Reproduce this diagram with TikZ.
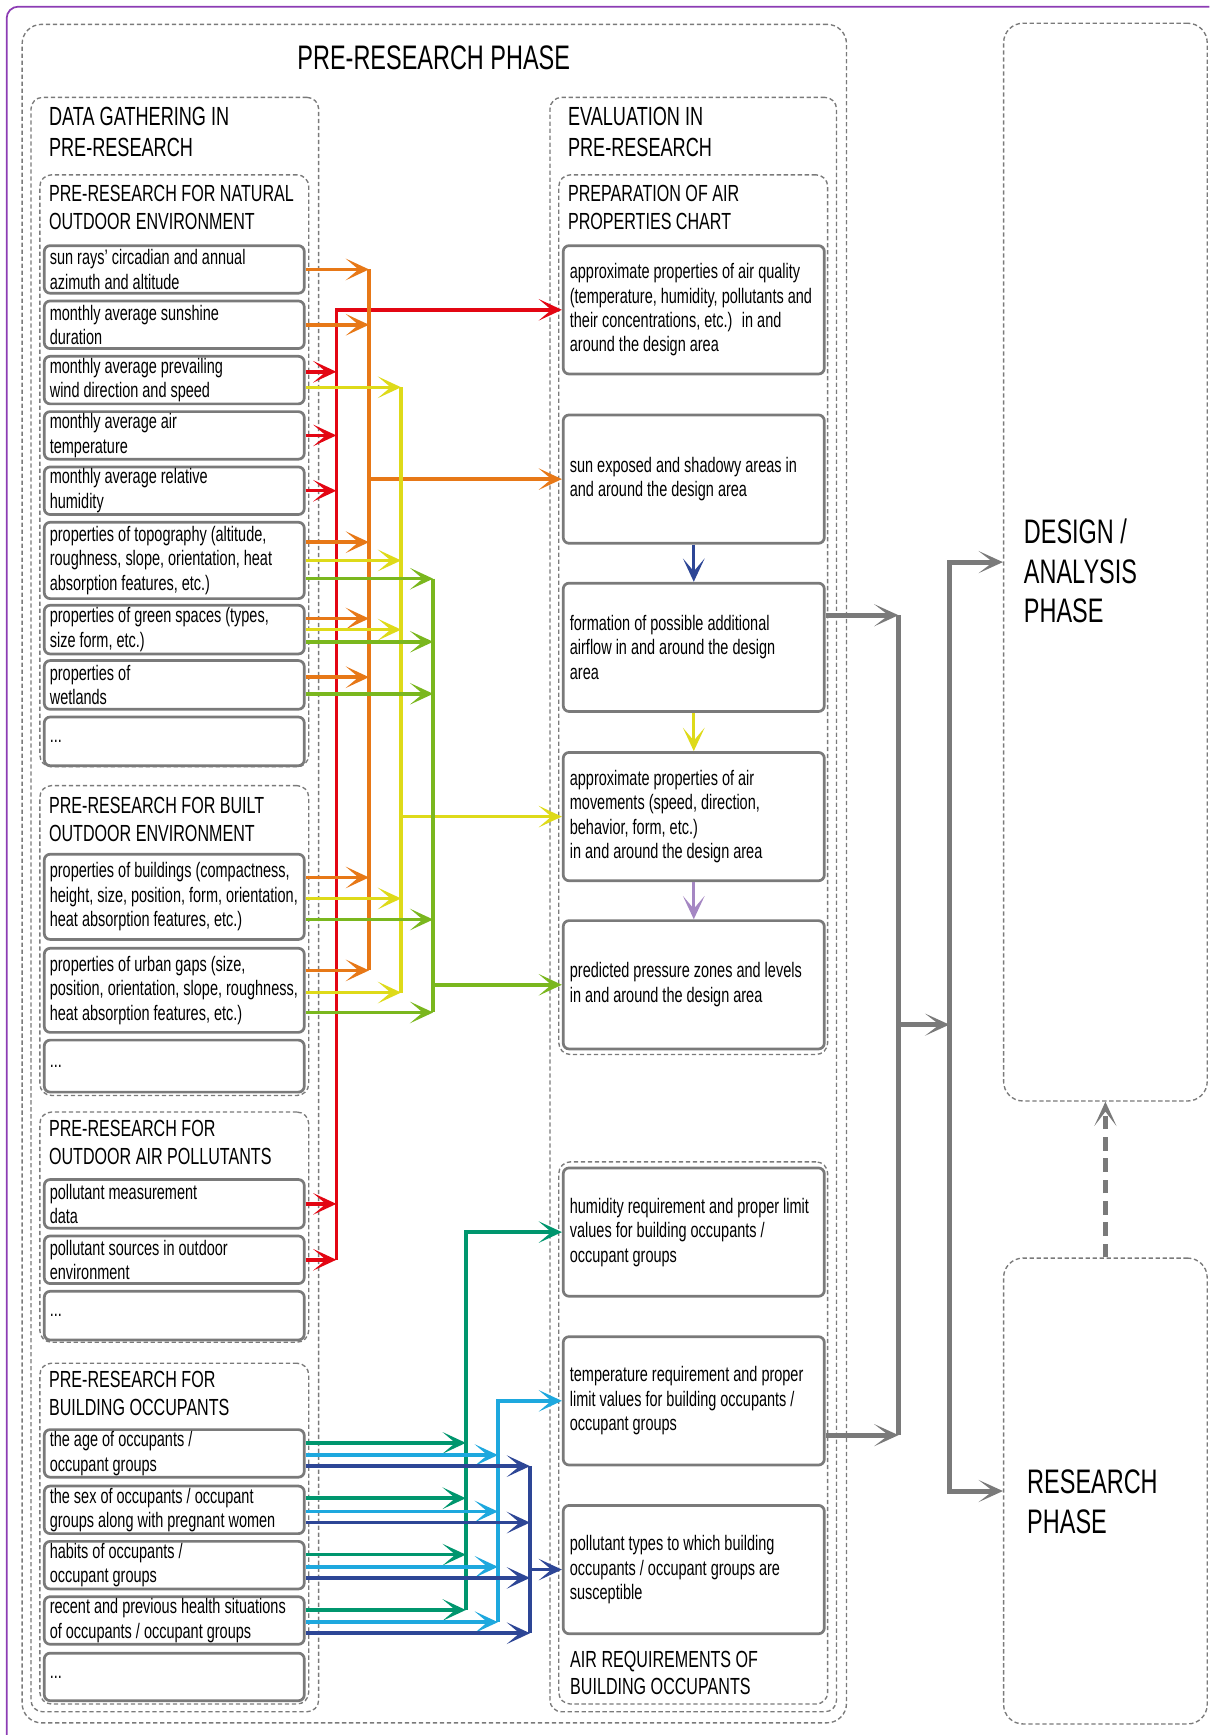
\documentclass[tikz,border=0pt]{standalone}
\usepackage{fontspec}
\setmainfont{Liberation Sans}[FakeStretch=0.69]
\usetikzlibrary{arrows.meta,calc,fit}

\definecolor{cred}{RGB}{227,6,19}
\definecolor{corange}{RGB}{231,120,23}
\definecolor{cyellow}{RGB}{222,218,25}
\definecolor{cgreen}{RGB}{122,183,30}
\definecolor{cteal}{RGB}{0,150,110}
\definecolor{cblue}{RGB}{30,168,222}
\definecolor{cnavy}{RGB}{45,70,150}
\definecolor{cviolet}{RGB}{165,135,195}
\definecolor{boxgray}{RGB}{122,122,122}
\definecolor{framepurple}{RGB}{140,60,180}

\newcommand{\smalltxt}{\fontsize{10.8}{12.6}\selectfont\hyphenpenalty=10000\exhyphenpenalty=10000}
\newcommand{\headtxt}{\fontsize{12}{14.2}\selectfont}
\newcommand{\secttxt}{\fontsize{13.5}{15.9}\selectfont}
\newcommand{\bigtxt}{\fontsize{17.5}{20.4}\selectfont}

\begin{document}
\begin{tikzpicture}[x=0.02cm, y=-0.02cm,
  grp/.style={draw=boxgray, line width=0.7pt, dash pattern=on 2.2pt off 1.4pt, rounded corners=6pt, inner sep=0pt},
  phase/.style={grp, rounded corners=10pt},
  item/.style={draw=boxgray, line width=1.4pt, rounded corners=3pt, align=flush left, text width=4.5cm, inner xsep=0.1cm, inner ysep=0pt, font=\smalltxt},
  evalbox/.style={item, text width=4.48cm, inner xsep=0.12cm, minimum height=2.32cm},
  head/.style={anchor=west, align=left, inner sep=0pt, font=\headtxt},
  sect/.style={head, font=\secttxt},
  big/.style={anchor=west, align=left, inner sep=0pt, font=\bigtxt},
  feed/.style={line width=1.8pt, -{Stealth[length=4.2mm, width=3.9mm, inset=2.3mm]}},
  bus/.style={line width=1.8pt},
  link/.style={line width=1.7pt, -{Stealth[length=4.2mm, width=3.9mm, inset=2.3mm]}},
  gline/.style={draw=boxgray, line width=2.6pt, -{Stealth[length=4.4mm, width=4mm, inset=2.6mm]}},
  gbus/.style={draw=boxgray, line width=2.6pt}]

\useasboundingbox (0,0) rectangle (1093,1568);
\clip (0,0) rectangle (1093,1568);
\draw[framepurple, line width=0.9pt, rounded corners=6pt] (6,6) rectangle (1140,1620);

\node[phase, fit={(20,22) (765,1557)}] (pre) {};
\node[phase, fit={(907,21) (1091,995)}] (design) {};
\node[phase, fit={(907,1137) (1091,1558)}] (research) {};
\node[grp, fit={(28,88) (288,1547)}] (gather) {};
\node[grp, fit={(497,88) (756,1547)}] (evaluate) {};
\node[grp, fit={(36,158) (279,693)}] (natural) {};
\node[grp, fit={(36,710) (279,990)}] (built) {};
\node[grp, fit={(36,1005) (279,1213)}] (pollut) {};
\node[grp, fit={(36,1232) (279,1540)}] (occup) {};
\node[grp, fit={(505,158) (748,953)}] (chart) {};
\node[grp, fit={(505,1050) (748,1540)}] (airreq) {};

\node[big, anchor=center] (tpre) at (392,52) {PRE-RESEARCH PHASE};
\node[sect] (tgather) at (44,119) {DATA GATHERING IN\\PRE-RESEARCH};
\node[sect] (tevaluate) at (513,119) {EVALUATION IN\\PRE-RESEARCH};
\node[head] (tnatural) at (44,187.5) {PRE-RESEARCH FOR NATURAL\\OUTDOOR ENVIRONMENT};
\node[head] (tbuilt) at (44,740.5) {PRE-RESEARCH FOR BUILT\\OUTDOOR ENVIRONMENT};
\node[head] (tpollut) at (44,1032.5) {PRE-RESEARCH FOR\\OUTDOOR AIR POLLUTANTS};
\node[head] (toccup) at (44,1259.5) {PRE-RESEARCH FOR\\BUILDING OCCUPANTS};
\node[head] (tchart) at (513,187.5) {PREPARATION OF AIR\\PROPERTIES CHART};
\node[head] (tairreq) at (515,1512) {AIR REQUIREMENTS OF\\BUILDING OCCUPANTS};
\node[big] (tdesign) at (925,516) {DESIGN /\\ANALYSIS\\PHASE};
\node[big] (tresearch) at (928,1357.5) {RESEARCH\\PHASE};

\node[item, minimum height=0.86cm] (n1) at (157.5,243.5) {sun rays' circadian and annual\\azimuth and altitude};
\node[item, minimum height=0.86cm] (n2) at (157.5,293.5) {monthly average sunshine\\duration};
\node[item, minimum height=0.86cm] (n3) at (157.5,343.5) {monthly average prevailing\\wind direction and speed};
\node[item, minimum height=0.86cm] (n4) at (157.5,393.5) {monthly average air\\temperature};
\node[item, minimum height=0.86cm] (n5) at (157.5,443.5) {monthly average relative\\humidity};
\node[item, minimum height=1.38cm] (n6) at (157.5,506.5) {properties of topography (altitude,\\roughness, slope, orientation, heat\\absorption features, etc.)};
\node[item, minimum height=0.88cm] (n7) at (157.5,569) {properties of green spaces (types,\\size form, etc.)};
\node[item, minimum height=0.88cm] (n8) at (157.5,619) {properties of\\wetlands};
\node[item, minimum height=0.88cm] (n9) at (157.5,670) {...};

\node[item, minimum height=1.54cm] (b1) at (157.5,810.5) {properties of buildings (compactness,\\height, size, position, form, orientation,\\heat absorption features, etc.)};
\node[item, minimum height=1.52cm] (b2) at (157.5,895) {properties of urban gaps (size,\\position, orientation, slope, roughness,\\heat absorption features, etc.)};
\node[item, minimum height=0.94cm] (b3) at (157.5,963.5) {...};

\node[item, minimum height=0.88cm] (p1) at (157.5,1088) {pollutant measurement\\data};
\node[item, minimum height=0.86cm] (p2) at (157.5,1138.5) {pollutant sources in outdoor\\environment};
\node[item, minimum height=0.88cm] (p3) at (157.5,1189) {...};

\node[item, minimum height=0.86cm] (o1) at (157.5,1313.5) {the age of occupants /\\occupant groups};
\node[item, minimum height=0.86cm] (o2) at (157.5,1364.5) {the sex of occupants / occupant\\groups along with pregnant women};
\node[item, minimum height=0.86cm] (o3) at (157.5,1414.5) {habits of occupants /\\occupant groups};
\node[item, minimum height=0.86cm] (o4) at (157.5,1464.5) {recent and previous health situations\\of occupants / occupant groups};
\node[item, minimum height=0.86cm] (o5) at (157.5,1515.5) {...};

\node[evalbox] (e1) at (627,280) {approximate properties of air quality\\(temperature, humidity, pollutants and\\their concentrations, etc.)~ in and\\around the design area};
\node[evalbox] (e2) at (627,433) {sun exposed and shadowy areas in\\and around the design area};
\node[evalbox] (e3) at (627,585) {formation of possible additional\\airflow in and around the design\\area};
\node[evalbox] (e4) at (627,738) {approximate properties of air\\movements (speed, direction,\\behavior, form, etc.)\\in and around the design area};
\node[evalbox] (e5) at (627,890) {predicted pressure zones and levels\\in and around the design area};
\node[evalbox] (r1) at (627,1113.5) {humidity requirement and proper limit\\values for building occupants /\\occupant groups};
\node[evalbox] (r2) at (627,1266) {temperature requirement and proper\\limit values for building occupants /\\occupant groups};
\node[evalbox] (r3) at (627,1418.5) {pollutant types to which building\\occupants / occupant groups are\\susceptible};

\draw[link, cnavy] (e2) -- (e3);
\draw[link, cyellow] (e3) -- (e4);
\draw[link, cviolet] (e4) -- (e5);

\coordinate (redbus) at (304,280);
\coordinate (redend) at (304,1138.5);
\coordinate (orgbus) at (333.5,243.5);
\coordinate (orgend) at (333.5,877);
\coordinate (ylwbus) at (362.5,350);
\coordinate (ylwend) at (362.5,897);
\coordinate (grnbus) at (391.5,523);
\coordinate (grnend) at (391.5,915);
\coordinate (tealbus) at (421,1113.5);
\coordinate (tealend) at (421,1455);
\coordinate (bluebus) at (450,1266);
\coordinate (blueend) at (450,1466);
\coordinate (navybus) at (479,1325);
\coordinate (navyend) at (479,1476);

\draw[feed, cred] (redend) -- (redbus) -- (e1.west);
\foreach \n/\d in {n3/-7.5,n4/0,n5/0,p1/0,p2/0}
  \draw[feed, cred] ($(\n.east)+(0,\d)$) coordinate (s) -- (s -| redbus);

\draw[bus, corange] (orgbus) -- (orgend);
\draw[feed, corange] (orgbus |- e2.west) -- (e2.west);
\foreach \n/\d in {n1/0,n2/0,n6/-16.5,n7/-10,n8/-7,b1/-17.5,b2/-18}
  \draw[feed, corange] ($(\n.east)+(0,\d)$) coordinate (s) -- (s -| orgbus);

\draw[bus, cyellow] (ylwbus) -- (ylwend);
\draw[feed, cyellow] (ylwbus |- e4.west) -- (e4.west);
\foreach \n/\d in {n3/6.5,n6/0,n7/0,b1/1.5,b2/2}
  \draw[feed, cyellow] ($(\n.east)+(0,\d)$) coordinate (s) -- (s -| ylwbus);

\draw[bus, cgreen] (grnbus) -- (grnend);
\draw[feed, cgreen] (grnbus |- e5.west) -- (e5.west);
\foreach \n/\d in {n6/16.5,n7/11,n8/8,b1/20.5,b2/20}
  \draw[feed, cgreen] ($(\n.east)+(0,\d)$) coordinate (s) -- (s -| grnbus);

\draw[feed, cteal] (tealend) -- (tealbus) -- (r1.west);
\foreach \n/\d in {o1/-9.5,o2/-10.5,o3/-9.5,o4/-9.5}
  \draw[feed, cteal] ($(\n.east)+(0,\d)$) coordinate (s) -- (s -| tealbus);

\draw[feed, cblue] (blueend) -- (bluebus) -- (r2.west);
\foreach \n/\d in {o1/1.5,o2/1.5,o3/1.5,o4/1.5}
  \draw[feed, cblue] ($(\n.east)+(0,\d)$) coordinate (s) -- (s -| bluebus);

\draw[bus, cnavy] (navybus) -- (navyend);
\draw[feed, cnavy] (navybus |- r3.west) -- (r3.west);
\foreach \n/\d in {o1/11.5,o2/11.5,o3/11.5,o4/11.5}
  \draw[feed, cnavy] ($(\n.east)+(0,\d)$) coordinate (s) -- (s -| navybus);

\coordinate (gx1) at (812,926);
\coordinate (gx2) at (858,508);
\draw[gline] ($(e3.east)+(0,-29)$) coordinate (q1) -- (q1 -| gx1);
\draw[gline] ($(r2.east)+(0,31)$) coordinate (q2) -- (q2 -| gx1);
\draw[gbus] (q1 -| gx1) -- (q2 -| gx1);
\draw[gline] (gx1) -- (gx1 -| gx2);
\draw[gline] (gx2 |- research.west) -- (gx2 |- design.west) -- (design.west);
\draw[gline] (gx2 |- design.west) -- (gx2 |- research.west) -- (research.west);
\draw[gline, dash pattern=on 7pt off 4pt] (research.north) -- (design.south);
\end{tikzpicture}
\end{document}
